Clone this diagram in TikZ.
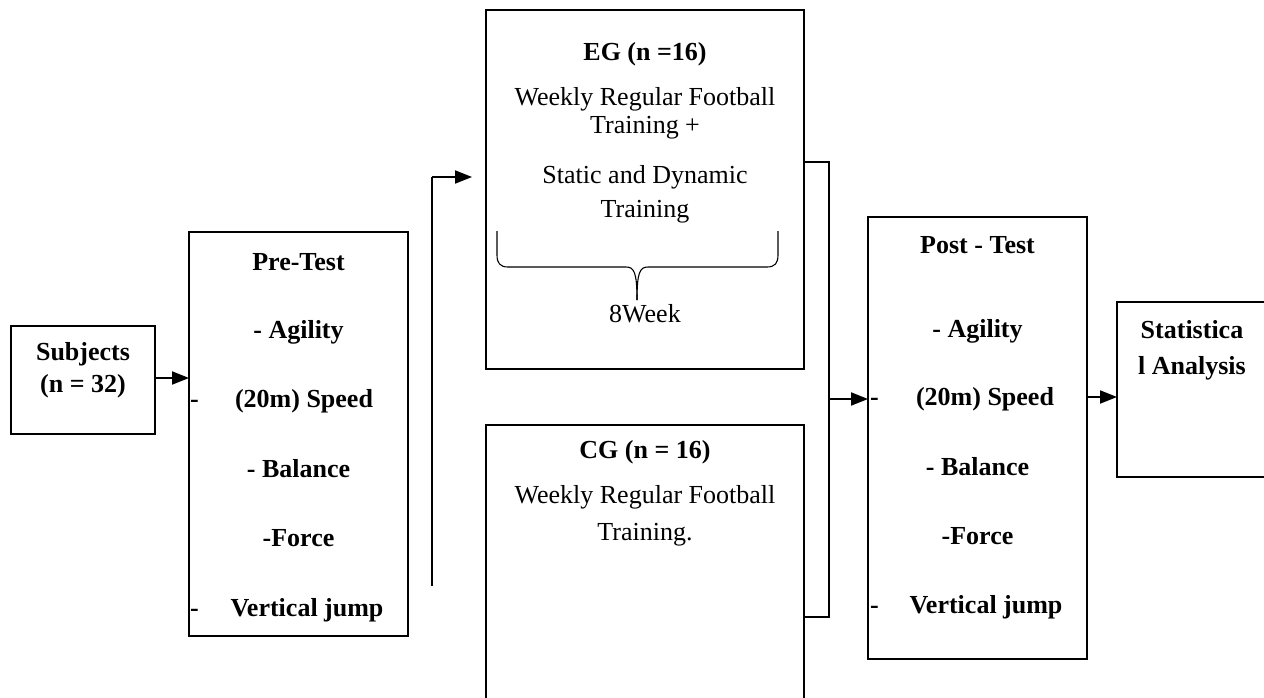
\documentclass[tikz,border=0pt]{standalone}
\usepackage{fontspec}
\setmainfont{Liberation Serif}
\usetikzlibrary{arrows.meta}
\begin{document}
\begin{tikzpicture}[x=1pt,y=-1pt,
  thinbox/.style={draw, line width=1.5pt, minimum width=#1, inner sep=0, outer sep=0},
  thickbox/.style={draw, line width=2.6pt, inner sep=0, outer sep=0},
  rt/.style={font=\fontsize{26}{29}\selectfont, anchor=base, inner sep=0},
  bt/.style={font=\fontsize{26}{29}\selectfont\bfseries, anchor=base, inner sep=0},
  dt/.style={font=\fontsize{26}{29}\selectfont\bfseries, anchor=base west, inner sep=0},
  arr/.style={line width=2pt, -{Triangle[length=17pt,width=13pt]}},
  conn/.style={line width=1.5pt},
  bracketline/.style={line width=2.6pt}]
\useasboundingbox (0,0) rectangle (1264,697);

% boxes
\node[thinbox=144pt, minimum height=108pt] (sub) at (83,380) {};
\node[thinbox=219pt, minimum height=404pt] (pre) at (298.5,434) {};
\node[thickbox, minimum width=318pt, minimum height=359pt] (eg) at (645,189.5) {};
\node[thickbox, minimum width=318pt, minimum height=276pt] (cg) at (645,563) {};
\node[thinbox=219pt, minimum height=442pt] (post) at (977.5,438) {};
\node[thinbox=153pt, minimum height=175pt] (stat) at (1193.5,389.5) {};

% Subjects text
\node[bt] (s1) at (83,360) {Subjects};
\node[bt] (s2) at (83,392) {(n = 32)};

% Pre-Test text
\node[bt] (p0) at (298.5,270) {Pre-Test};
\node[bt] (p1) at (298.5,338) {- Agility};
\node[bt] (p2) at (304,407) {(20m) Speed};
\node[bt] (p3) at (298.5,477) {- Balance};
\node[bt] (p4) at (298.5,546) {-Force};
\node[bt] (p5) at (307,616) {Vertical jump};
\node[dt] (pd1) at (190,407) {-};
\node[dt] (pd2) at (190,616) {-};

% EG text
\node[bt] (e0) at (645,60) {EG (n =16)};
\node[rt] (e1) at (645,105) {Weekly Regular Football};
\node[rt] (e2) at (645,133) {Training +};
\node[rt] (e3) at (645,183) {Static and Dynamic};
\node[rt] (e4) at (645,217) {Training};
\node[rt] (e5) at (645,322) {8Week};
\draw[line width=1.1pt] (497,231) -- (497,255) .. controls (497,263) and (500,267) .. (508,267)
  -- (626,267) .. controls (634,267) and (637,272) .. (637,300);
\draw[line width=1.1pt] (778,231) -- (778,255) .. controls (778,263) and (775,267) .. (767,267)
  -- (648,267) .. controls (640,267) and (637,272) .. (637,300);

% CG text
\node[bt] (c0) at (645,458) {CG (n = 16)};
\node[rt] (c1) at (645,503) {Weekly Regular Football};
\node[rt] (c2) at (645,540) {Training.};

% Post-Test text
\node[bt] (q0) at (977.5,253) {Post - Test};
\node[bt] (q1) at (977.5,337) {- Agility};
\node[bt] (q2) at (985,405) {(20m) Speed};
\node[bt] (q3) at (977.5,475) {- Balance};
\node[bt] (q4) at (977.5,544) {-Force};
\node[bt] (q5) at (986,613) {Vertical jump};
\node[dt] (qd1) at (870,405) {-};
\node[dt] (qd2) at (870,613) {-};

% Statistical text
\node[bt] (t1) at (1192,338) {Statistica};
\node[bt] (t2) at (1192,374) {l Analysis};

% connectors
\coordinate (vb) at (432,586);
\coordinate (vt) at (432,177);
\coordinate (br1) at (829,162);
\coordinate (br2) at (829,617);
\coordinate (bm) at (829,399);
\coordinate (pa) at (1087,397);
\coordinate (sa) at (155,378);

\draw[arr] (sub.east |- sa) -- (pre.west |- sa);
\draw[conn] (vb) -- (vt);
\draw[arr, shorten >=14pt] (vt) -- (eg.west |- vt);
\draw[bracketline] (eg.east |- br1) -- (br1) -- (br2) -- (cg.east |- br2);
\draw[arr] (bm) -- (post.west |- bm);
\draw[arr] (post.east |- pa) -- (stat.west |- pa);
\end{tikzpicture}
\end{document}
